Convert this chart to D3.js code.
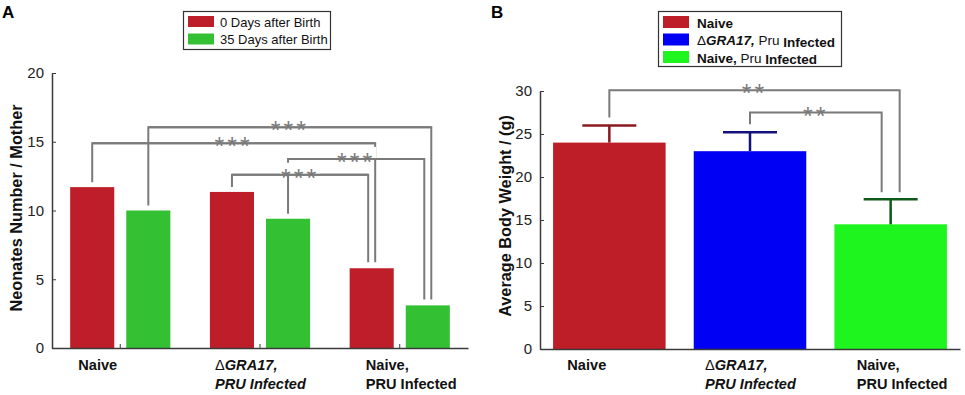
<!DOCTYPE html>
<html>
<head>
<meta charset="utf-8">
<script src="https://cdn.jsdelivr.net/npm/d3@7"></script>
<style>
  body { margin: 0; background: #fff; }
  svg { font-family: "Liberation Sans", Arial, sans-serif; }
</style>
</head>
<body>
<svg id="chart" width="965" height="395"></svg>
<script>
// ---- panel A data
const groupsA = ["Naive", "GRA17", "PRU"];
const seriesA = ["0 Days after Birth", "35 Days after Birth"];
const day0 = [11.7, 11.35, 5.8];
const day35 = [10.0, 9.4, 3.1];
const ticksA = [0, 5, 10, 15, 20];
// brackets: [group, series] -> [group, series], height in units
const sigA = [
  { a: [0, 1], b: [2, 1], h: 16.05, label: "***" },
  { a: [0, 0], b: [2, 0], h: 14.9, label: "***" },
  { a: [1, 1], b: [2, 1], h: 13.75, label: "***" },
  { a: [1, 0], b: [2, 0], h: 12.6, label: "***" }
];

// ---- panel B data
const groupsB = ["Naive", "GRA17", "PRU"];
const seriesB = ["Naive", "ΔGRA17, Pru Infected", "Naive, Pru Infected"];
const weight = [24.0, 23.0, 14.5];
const weightErr = [2.0, 2.2, 2.9];
const ticksB = [0, 5, 10, 15, 20, 25, 30];
const sigB = [
  { a: 0, b: 2, h: 30.1, label: "**" },
  { a: 1, b: 2, h: 27.5, label: "**" }
];

const svg = d3.select("#chart");
const lineGray = "#7a7a7a";
const axisCol = "#3a3a3a";
const lblSize = 14.6;

// x labels (two lines, with formatting)
function xLabels(g, x, y0) {
  g.append("text").attr("x", x(0) - 42).attr("y", y0)
    .attr("font-size", lblSize).attr("font-weight", "bold").attr("fill", "#111").text("Naive");
  const ta = g.append("text").attr("x", x(1) - 45).attr("y", y0)
    .attr("font-size", lblSize).attr("font-weight", "bold").attr("fill", "#111");
  ta.append("tspan").attr("font-weight", "normal").text("Δ");
  ta.append("tspan").attr("font-style", "italic").text("GRA17,");
  g.append("text").attr("x", x(1) - 45).attr("y", y0 + 19)
    .attr("font-size", lblSize).attr("font-weight", "bold").attr("font-style", "italic").attr("fill", "#111")
    .text("PRU Infected");
  g.append("text").attr("x", x(2) - 34).attr("y", y0)
    .attr("font-size", lblSize).attr("font-weight", "bold").attr("fill", "#111").text("Naive,");
  g.append("text").attr("x", x(2) - 34).attr("y", y0 + 19)
    .attr("font-size", lblSize).attr("font-weight", "bold").attr("fill", "#111").text("PRU Infected");
}

function drawStars(g, cx, yLine, label) {
  g.append("text")
    .attr("x", cx).attr("y", yLine + 12)
    .attr("text-anchor", "middle")
    .attr("font-size", 25).attr("letter-spacing", 3)
    .attr("fill", lineGray)
    .text(label);
}

// ============ PANEL A ============
(function panelA() {
  const g = svg.append("g");
  const colors = ["#be1e2a", "#33c133"];

  const x = d3.scaleBand().domain(d3.range(groupsA.length)).range([52, 468])
    .paddingInner(0.283).paddingOuter(0.13);
  const xi = d3.scaleBand().domain(d3.range(seriesA.length)).range([0, x.bandwidth()])
    .paddingInner(0.214).paddingOuter(0);
  const y = d3.scaleLinear().domain([0, 20]).range([348, 73]);

  const vals = [day0, day35];
  const cx = (gi, si) => x(gi) + xi(si) + xi.bandwidth() / 2;
  const legX = s => {
    let x2 = cx(s.b[0], s.b[1]);
    const sameBar = sigA.filter(o => o.b[0] === s.b[0] && o.b[1] === s.b[1]);
    if (sameBar.length > 1) x2 += (sameBar.indexOf(s) === 0 ? 3.5 : -3.5);
    return x2;
  };

  // bars
  vals.forEach((arr, si) => {
    g.selectAll(null).data(arr).join("rect")
      .attr("x", (d, i) => x(i) + xi(si))
      .attr("y", d => y(d))
      .attr("width", xi.bandwidth())
      .attr("height", d => y(0) - y(d))
      .attr("fill", colors[si]);
  });

  // significance brackets
  const bg = g.append("g").attr("fill", "none").attr("stroke", lineGray).attr("stroke-width", 2);
  sigA.forEach(s => {
    const x1 = cx(s.a[0], s.a[1]);
    const x2 = legX(s);
    const yl = y(s.h);
    const yA = y(vals[s.a[1]][s.a[0]]) - 5;
    const yB = y(vals[s.b[1]][s.b[0]]) - 6;
    bg.append("path").attr("d", `M${x1},${yA}V${yl}H${x2}V${yB}`);
  });
  // white boxes behind stars, then re-draw bracket tops and stars
  sigA.forEach(s => {
    const mid = (cx(s.a[0], s.a[1]) + legX(s)) / 2;
    g.append("rect").attr("x", mid - 20).attr("y", y(s.h) - 12)
      .attr("width", 40).attr("height", 11).attr("fill", "#fff");
  });
  sigA.forEach(s => {
    const x1 = cx(s.a[0], s.a[1]);
    const x2 = legX(s);
    g.append("line").attr("x1", x1).attr("x2", x2).attr("y1", y(s.h)).attr("y2", y(s.h))
      .attr("stroke", lineGray).attr("stroke-width", 2);
    drawStars(g, (x1 + x2) / 2, y(s.h), s.label);
  });

  // axes
  const yAxis = d3.axisLeft(y).tickValues(ticksA).tickSizeInner(-4).tickSizeOuter(0).tickPadding(8);
  const ya = g.append("g").attr("transform", "translate(52,0)").call(yAxis);
  ya.select(".domain").attr("stroke", axisCol).attr("stroke-width", 1.5);
  ya.selectAll(".tick line").attr("stroke", axisCol);
  ya.selectAll(".tick text").attr("font-size", 15).attr("fill", "#222").attr("font-family", "Liberation Sans, Arial");

  const xAxis = d3.axisBottom(d3.scaleLinear().domain([0, 1]).range([52, 468]))
    .tickValues([]).tickSizeOuter(0);
  const xa = g.append("g").attr("transform", "translate(0,348)").call(xAxis);
  xa.select(".domain").attr("stroke", axisCol).attr("stroke-width", 1.5);
  groupsA.forEach((d, i) => {
    g.append("line").attr("x1", x(i) + x.bandwidth() / 2).attr("x2", x(i) + x.bandwidth() / 2)
      .attr("y1", 348).attr("y2", 344).attr("stroke", axisCol);
  });

  xLabels(g, i => x(i) + x.bandwidth() / 2, 370);

  // y label
  g.append("text").attr("transform", "translate(22,208) rotate(-90)")
    .attr("text-anchor", "middle").attr("font-size", 16.3).attr("font-weight", "bold").attr("fill", "#111")
    .text("Neonates Number / Mother");

  // panel letter
  g.append("text").attr("x", 2).attr("y", 18).attr("font-size", 17).attr("font-weight", "bold").text("A");

  // legend
  const lg = g.append("g");
  lg.append("rect").attr("x", 183.5).attr("y", 11.5).attr("width", 147).attr("height", 38)
    .attr("fill", "#fff").attr("stroke", "#333").attr("stroke-width", 1.2);
  seriesA.forEach((s, i) => {
    lg.append("rect").attr("x", 188).attr("y", 16 + i * 17.5).attr("width", 26).attr("height", 11)
      .attr("fill", colors[i]);
    lg.append("text").attr("x", 220).attr("y", 26.5 + i * 17.5).attr("font-size", 13).attr("fill", "#111").text(s);
  });
})();

// ============ PANEL B ============
(function panelB() {
  const g = svg.append("g");
  const colors = ["#bd1e27", "#0000f5", "#1ef51e"];
  const errColors = ["#8a1a20", "#12127a", "#0f5a1a"];

  const x = d3.scaleBand().domain(d3.range(groupsB.length)).range([540, 960])
    .paddingInner(0.2).paddingOuter(0.093);
  const y = d3.scaleLinear().domain([0, 30]).range([349, 91]);
  const cx = i => x(i) + x.bandwidth() / 2;

  g.selectAll(null).data(weight).join("rect")
    .attr("x", (d, i) => x(i)).attr("y", d => y(d))
    .attr("width", x.bandwidth()).attr("height", d => y(0) - y(d))
    .attr("fill", (d, i) => colors[i]);

  // error bars
  weight.forEach((d, i) => {
    const top = y(d + weightErr[i]);
    g.append("line").attr("x1", cx(i)).attr("x2", cx(i)).attr("y1", y(d)).attr("y2", top)
      .attr("stroke", errColors[i]).attr("stroke-width", 2.5);
    g.append("line").attr("x1", cx(i) - 27).attr("x2", cx(i) + 27).attr("y1", top).attr("y2", top)
      .attr("stroke", errColors[i]).attr("stroke-width", 2.5);
  });

  // brackets
  sigB.forEach((s, k) => {
    const x1 = cx(s.a);
    const x2 = cx(s.b) + (k === 0 ? 9 : -9);
    const yl = y(s.h);
    const yA = y(weight[s.a] + weightErr[s.a]) - 8;
    const yB = y(weight[s.b] + weightErr[s.b]) - 7;
    g.append("path").attr("d", `M${x1},${yA}V${yl}H${x2}V${yB}`)
      .attr("fill", "none").attr("stroke", lineGray).attr("stroke-width", 2);
    drawStars(g, (x1 + x2) / 2, yl, s.label);
  });

  // axes
  const yAxis = d3.axisLeft(y).tickValues(ticksB).tickSizeInner(-4).tickSizeOuter(0).tickPadding(8);
  const ya = g.append("g").attr("transform", "translate(540,0)").call(yAxis);
  ya.select(".domain").attr("stroke", axisCol).attr("stroke-width", 1.5);
  ya.selectAll(".tick line").attr("stroke", axisCol);
  ya.selectAll(".tick text").attr("font-size", 15).attr("fill", "#222").attr("font-family", "Liberation Sans, Arial");

  const xAxis = d3.axisBottom(d3.scaleLinear().domain([0, 1]).range([540, 960]))
    .tickValues([]).tickSizeOuter(0);
  const xa = g.append("g").attr("transform", "translate(0,349)").call(xAxis);
  xa.select(".domain").attr("stroke", axisCol).attr("stroke-width", 1.5);

  xLabels(g, i => cx(i), 370);

  g.append("text").attr("transform", "translate(511,216) rotate(-90)")
    .attr("text-anchor", "middle").attr("font-size", 16.3).attr("font-weight", "bold").attr("fill", "#111")
    .text("Average Body Weight / (g)");

  g.append("text").attr("x", 491).attr("y", 18).attr("font-size", 17).attr("font-weight", "bold").text("B");

  // legend
  const lg = g.append("g");
  lg.append("rect").attr("x", 658.5).attr("y", 11.5).attr("width", 183).attr("height", 55)
    .attr("fill", "#fff").attr("stroke", "#333").attr("stroke-width", 1.2);
  seriesB.forEach((s, i) => {
    lg.append("rect").attr("x", 663).attr("y", 16 + i * 17.5).attr("width", 26).attr("height", 12)
      .attr("fill", colors[i]);
  });
  const ly = i => 27.5 + i * 17.5;
  lg.append("text").attr("x", 697).attr("y", ly(0)).attr("font-size", 13.5).attr("font-weight", "bold")
    .attr("fill", "#111").text("Naive");
  const t1 = lg.append("text").attr("x", 697).attr("y", ly(1)).attr("font-size", 13.5).attr("fill", "#111");
  t1.append("tspan").text("Δ");
  t1.append("tspan").attr("font-weight", "bold").attr("font-style", "italic").text("GRA17,");
  t1.append("tspan").text(" Pru ");
  t1.append("tspan").attr("font-weight", "bold").attr("dy", 2).text("Infected");
  const t2 = lg.append("text").attr("x", 697).attr("y", ly(2)).attr("font-size", 13.5).attr("fill", "#111");
  t2.append("tspan").attr("font-weight", "bold").text("Naive, ");
  t2.append("tspan").text("Pru ");
  t2.append("tspan").attr("font-weight", "bold").attr("dy", 1).text("Infected");
})();
</script>
</body>
</html>
